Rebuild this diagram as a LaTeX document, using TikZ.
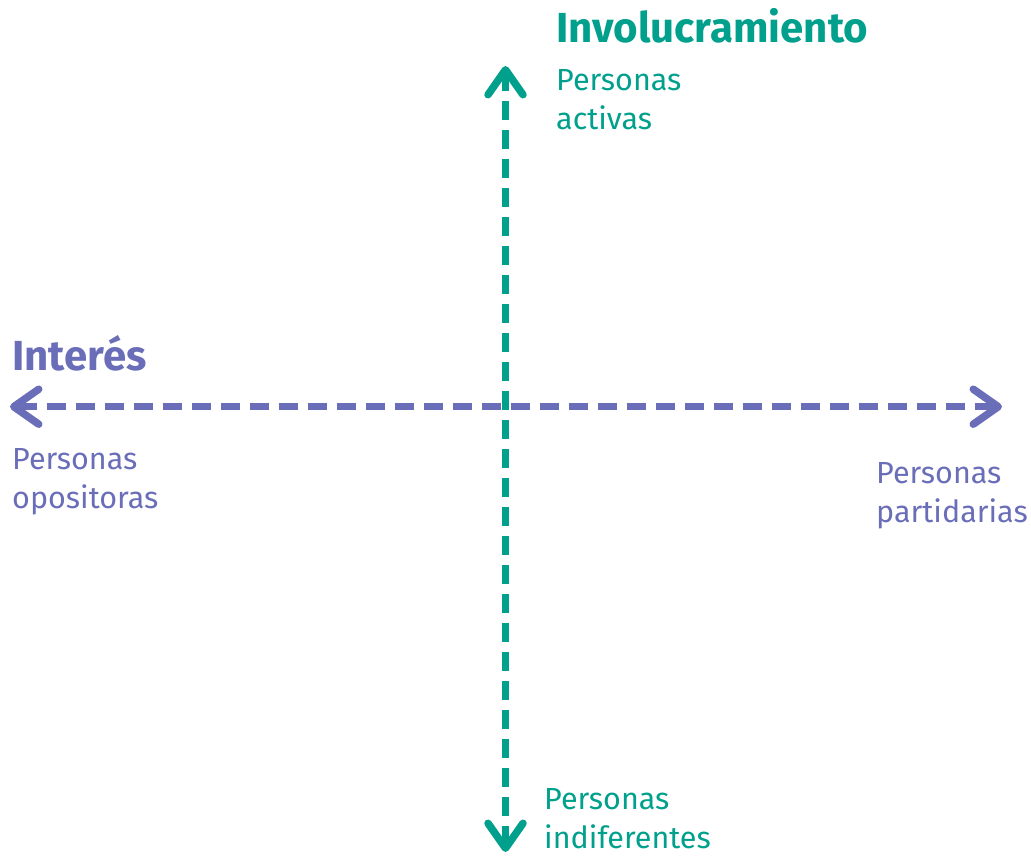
\documentclass[tikz,border=0pt]{standalone}
\usepackage{fontspec}
\setmainfont{Fira Sans}
\usetikzlibrary{arrows.meta}
\definecolor{tealaxis}{RGB}{0,160,140}
\definecolor{purpleaxis}{RGB}{106,110,184}
\begin{document}
\begin{tikzpicture}[
  x=1pt, y=-1pt,
  axis/.style={line width=7.5pt, dash pattern=on 19pt off 10pt,
    {Straight Barb[round, length=25pt, width=35pt]}-{Straight Barb[round, length=25pt, width=35pt]}},
  title/.style={anchor=base west, inner sep=0pt, font=\fontsize{42}{44}\selectfont\bfseries},
  label/.style={anchor=base west, inner sep=0pt, align=left, font=\fontsize{30.5}{39}\selectfont}
]
  \useasboundingbox (0,0) rectangle (1031,857);

  % ends of the axes
  \coordinate (top) at (505.5,66);
  \coordinate (bottom) at (505.5,852);
  \coordinate (left) at (10,406.7);
  \coordinate (right) at (1002,406.7);

  \draw[axis, tealaxis] (bottom) -- (top);
  \draw[axis, purpleaxis] (left) -- (right);

  % base anchor is the last line
  \node[title, text=tealaxis] (inv) at (556,42) {Involucramiento};
  \node[label, text=tealaxis] (act) at (556,129) {Personas\\activas};
  \node[label, text=tealaxis] (ind) at (544,848) {Personas\\indiferentes};

  \node[title, text=purpleaxis] (int) at (12,370) {Interés};
  \node[label, text=purpleaxis] (opo) at (12,508) {Personas\\opositoras};
  \node[label, text=purpleaxis] (par) at (876,522) {Personas\\partidarias};
\end{tikzpicture}
\end{document}
